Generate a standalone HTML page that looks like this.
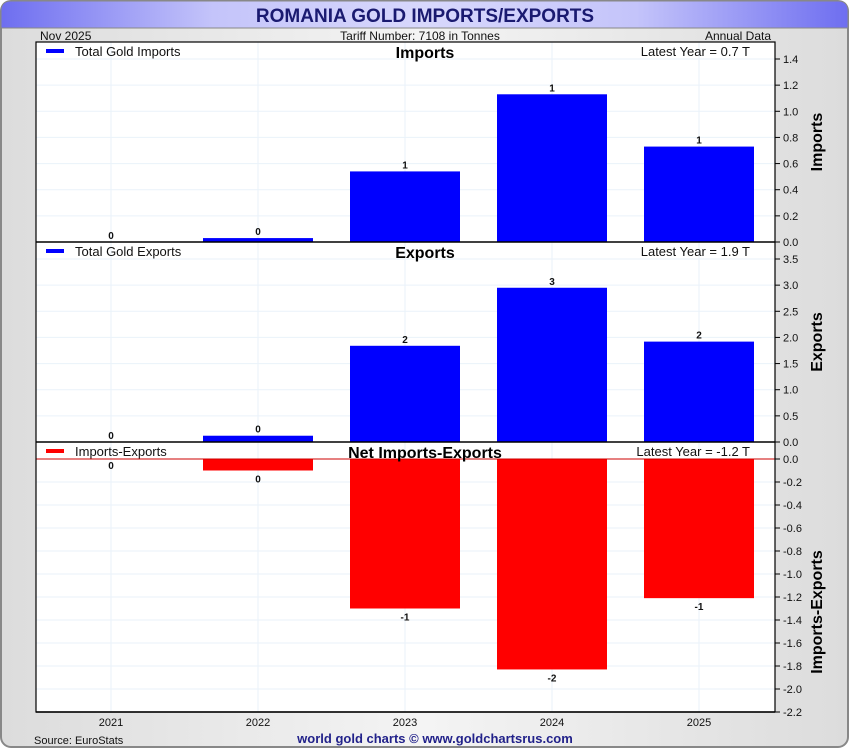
<!DOCTYPE html>
<html><head><meta charset="utf-8"><style>
html,body{margin:0;padding:0;background:#fff}
svg{display:block;font-family:"Liberation Sans",sans-serif}
</style></head><body>
<svg id="c" width="850" height="750" viewBox="0 0 850 750">
<defs>
<linearGradient id="hg" x1="0" x2="1" y1="0" y2="0">
<stop offset="0" stop-color="#6e6ef0"/><stop offset="0.25" stop-color="#c4c4fa"/><stop offset="0.5" stop-color="#d8d8fc"/><stop offset="0.75" stop-color="#c4c4fa"/><stop offset="1" stop-color="#6e6ef0"/>
</linearGradient>
<linearGradient id="bg" x1="0" x2="1" y1="0" y2="0">
<stop offset="0" stop-color="#dcdcdc"/><stop offset="0.5" stop-color="#f4f4f4"/><stop offset="1" stop-color="#dcdcdc"/>
</linearGradient>
</defs>
<rect x="1" y="1" width="847" height="746" rx="10" fill="url(#bg)" stroke="#888" stroke-width="2"/>
<path d="M1,28 L1,11 Q1,1 11,1 L838,1 Q848,1 848,11 L848,28 Z" fill="url(#hg)" stroke="#888"/>
<text x="425" y="22" text-anchor="middle" font-size="19" font-weight="bold" fill="#1a1a70">ROMANIA GOLD IMPORTS/EXPORTS</text>
<text x="40" y="40" font-size="12" fill="#111">Nov  2025</text>
<text x="420" y="40" text-anchor="middle" font-size="12" fill="#111">Tariff Number: 7108 in Tonnes</text>
<text x="771" y="40" text-anchor="end" font-size="12" fill="#111">Annual Data</text>
<rect x="36" y="42" width="739" height="670" fill="#fff"/>
<g id="g"></g>
<text x="34" y="744" font-size="11" fill="#111">Source: EuroStats</text>
<text x="435" y="743" text-anchor="middle" font-size="13" font-weight="bold" fill="#22228a">world gold charts © www.goldchartsrus.com</text>
</svg>
<script>
const categories=["2021","2022","2023","2024","2025"];
const importVals=[0,0.03,0.54,1.13,0.73];
const exportVals=[0,0.12,1.84,2.95,1.92];
const netVals=[0,-0.1,-1.3,-1.83,-1.21];
const importTicks=[0,0.2,0.4,0.6,0.8,1.0,1.2,1.4];
const exportTicks=[0,0.5,1.0,1.5,2.0,2.5,3.0,3.5];
const netTicks=[0,-0.2,-0.4,-0.6,-0.8,-1.0,-1.2,-1.4,-1.6,-1.8,-2.0,-2.2];
const NS="http://www.w3.org/2000/svg";
const g=document.getElementById('g');
function mk(t,a,txt){const e=document.createElementNS(NS,t);for(const k in a)e.setAttribute(k,a[k]);if(txt!=null)e.textContent=txt;g.appendChild(e);return e;}
const X0=36,X1=775,step=147,first=111,bw=110;
function xs(i){return first+i*step;}
categories.forEach((c,i)=>{
 const l=mk('line',{x1:xs(i),x2:xs(i),y1:42,y2:712,stroke:'#eaf2fa'});
 
 
 const t=mk('text',{x:xs(i),y:726,'text-anchor':'middle','font-size':11,fill:'#111'},c);
 
 
});
const panels=[
 {vals:importVals,ticks:importTicks,y0:242,ymax:1.4,ytop:59,color:'#0000ff',legend:'Total Gold Imports',title:'Imports',latest:'Latest Year = 0.7 T',axis:'Imports',top:42,bot:242,dec:1},
 {vals:exportVals,ticks:exportTicks,y0:442,ymax:3.5,ytop:259,color:'#0000ff',legend:'Total Gold Exports',title:'Exports',latest:'Latest Year = 1.9 T',axis:'Exports',top:242,bot:442,dec:1},
 {vals:netVals,ticks:netTicks,y0:459,ymax:-2.2,ytop:712,color:'#ff0000',legend:'Imports-Exports',title:'Net Imports-Exports',latest:'Latest Year = -1.2 T',axis:'Imports-Exports',top:442,bot:712,dec:1}
];
panels.forEach((p,pi)=>{
 const sy=v=>p.y0+(p.ytop-p.y0)*v/p.ymax;
 p.ticks.forEach(t=>{
  const y=sy(t);
  const gl=mk('line',{x1:X0,x2:X1,y1:y,y2:y,stroke:'#eaf2fa'});
  
  
  const tk=mk('line',{x1:X1,x2:X1+5,y1:y,y2:y,stroke:'#000'});
  
  
  const tl=mk('text',{x:X1+8,y:y+4,'font-size':11,fill:'#111'},t.toFixed(p.dec));
  
  
 });
 p.vals.forEach((v,i)=>{
  const y=sy(v);
  const r=mk('rect',{x:xs(i)-bw/2,y:Math.min(y,p.y0),width:bw,height:Math.abs(y-p.y0),fill:p.color});
  
  
  const lbl=Math.round(v)===0?'0':String(Math.round(v));
  const below=(pi===2);
  const ly=below?(Math.abs(y-p.y0)<3?p.y0+10:y+12):y-3;
  const tl=mk('text',{x:xs(i),y:ly,'text-anchor':'middle','font-size':10,'font-weight':'bold',fill:'#111'},lbl);
  
  
 });
 if(pi===2){const zl=mk('line',{x1:X0,x2:X1,y1:p.y0,y2:p.y0,stroke:'#cc0000'});}
 const lm=mk('rect',{x:46,y:p.top+7,width:18,height:4,fill:p.color});
 
 
 const lt=mk('text',{x:75,y:p.top+14,'font-size':13,fill:'#111'},p.legend);
 
 
 const pt=mk('text',{x:425,y:p.top+16,'text-anchor':'middle','font-size':16,'font-weight':'bold',fill:'#000'},p.title);
 
 
 const la=mk('text',{x:750,y:p.top+14,'text-anchor':'end','font-size':13,fill:'#111'},p.latest);
 
 
 const cy=(p.top+p.bot)/2+(pi===2?35:0);
 const at=mk('text',{x:822,y:cy,'text-anchor':'middle','font-size':16,'font-weight':'bold',fill:'#000',transform:'rotate(-90 822 '+cy+')'},p.axis);
 
 
 const bl=mk('line',{x1:X0,x2:X1,y1:p.bot,y2:p.bot,stroke:'#000','stroke-width':1.5});
 
 
});
const br=mk('rect',{x:X0,y:42,width:X1-X0,height:670,fill:'none',stroke:'#000','stroke-width':1.2});


</script>
</body></html>
